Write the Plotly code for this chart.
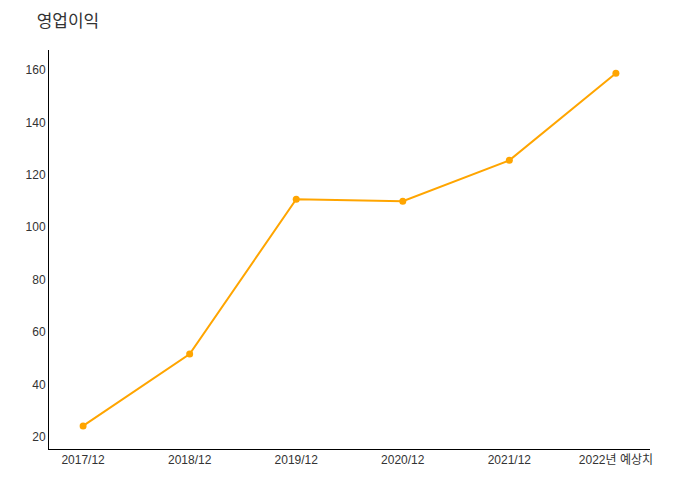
import plotly.graph_objects as go

categories = ["2017/12", "2018/12", "2019/12", "2020/12", "2021/12", "2022년 예상치"]
operating_profit = [24.2, 51.6, 110.7, 109.9, 125.5, 158.7]
y_ticks = [20, 40, 60, 80, 100, 120, 140, 160]

fig = go.Figure()
fig.add_trace(go.Scatter(
    x=categories, y=operating_profit, mode="lines+markers",
    line=dict(color="#FFA500", width=2),
    marker=dict(color="#FFA500", size=7),
    showlegend=False,
))

font_family = "Liberation Sans, Arial, Noto Sans CJK KR, sans-serif"
fig.update_layout(
    width=700, height=500,
    paper_bgcolor="white", plot_bgcolor="white",
    margin=dict(l=41, r=58, t=42, b=59),
    font=dict(family=font_family, size=12, color="#333333"),
    title=dict(text="영업이익", x=0.041, xanchor="left", y=0.974, yanchor="middle",
               font=dict(size=17, color="#333333", family="Noto Sans CJK KR, sans-serif")),
)
fig.update_xaxes(
    type="category", range=[-0.32, 5.32],
    showline=True, linecolor="black", linewidth=1,
    showgrid=False, zeroline=False, ticks="",
    tickfont=dict(size=12, color="#333333"),
)
fig.update_yaxes(
    range=[15.4, 167.6], tickvals=y_ticks,
    showline=True, linecolor="black", linewidth=1,
    showgrid=False, zeroline=False, ticks="",
    tickfont=dict(size=12, color="#333333"),
)

fig.write_html("out.html")
